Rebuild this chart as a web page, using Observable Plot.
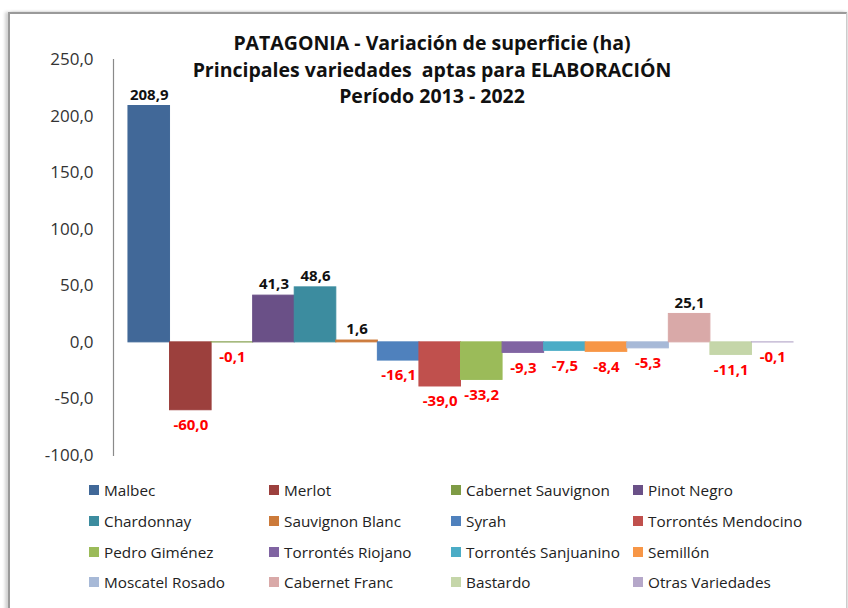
<!DOCTYPE html>
<html>
<head>
<meta charset="utf-8">
<script src="https://cdn.jsdelivr.net/npm/d3@7"></script>
<script src="https://cdn.jsdelivr.net/npm/@observablehq/plot@0.6"></script>
<style>
  html, body { margin: 0; padding: 0; background: #fff; }
  #wrap { position: relative; width: 848px; height: 608px; overflow: hidden; font-family: "Open Sans", sans-serif; }
  #box { position: absolute; left: 8px; top: 12px; width: 836px; height: 620px; border-top: 2px solid #9a9a9a; border-left: 2px solid #9a9a9a; border-right: 1px solid #ccc; box-shadow: -3px 0 3px rgba(0,0,0,0.18), 3px 0 3px rgba(0,0,0,0.12); }
  #chart { position: absolute; left: 0; top: 0; }
  #title { position: absolute; left: 82px; top: 30px; width: 700px; text-align: center; font-weight: bold; font-size: 19.5px; line-height: 26.5px; color: #111; }
  #legend { position: absolute; left: 0; top: 0; }
  .item { position: absolute; display: flex; align-items: center; font-size: 15.3px; color: #222; white-space: nowrap; }
  .sw { width: 10px; height: 10px; margin-right: 5px; }
</style>
</head>
<body>
<div id="wrap">
  <div id="box"></div>
  <div id="chart"></div>
  <div id="title">PATAGONIA - Variación de superficie (ha)<br>Principales variedades&nbsp; aptas para ELABORACIÓN<br>Período 2013 - 2022</div>
  <div id="legend"></div>
</div>
<script>
const varieties = ["Malbec", "Merlot", "Cabernet Sauvignon", "Pinot Negro", "Chardonnay", "Sauvignon Blanc", "Syrah", "Torrontés Mendocino", "Pedro Giménez", "Torrontés Riojano", "Torrontés Sanjuanino", "Semillón", "Moscatel Rosado", "Cabernet Franc", "Bastardo", "Otras Variedades"];
const values = [208.9, -60.0, -0.1, 41.3, 48.6, 1.6, -16.1, -39.0, -33.2, -9.3, -7.5, -8.4, -5.3, 25.1, -11.1, -0.1];
const colors = ["#416898", "#9C403D", "#7E9B45", "#6A5087", "#3C8C9F", "#CC7A3A", "#4F81BD", "#C0504D", "#9BBB59", "#8064A2", "#4BACC6", "#F79646", "#A7B9D7", "#D9A9A8", "#C5D6A9", "#B5A7C9"];
const yTicks = [-100, -50, 0, 50, 100, 150, 200, 250];

const data = varieties.map((name, i) => ({name, value: values[i]}));
const fmt = d => d.toFixed(1).replace(".", ",");

const plot = Plot.plot({
  width: 848,
  height: 470,
  marginTop: 59,
  marginBottom: 15,
  marginLeft: 113,
  marginRight: 40,
  style: {background: "transparent", fontFamily: "Open Sans, sans-serif"},
  x: {domain: varieties, paddingInner: 0, paddingOuter: 0.36, round: false, axis: null},
  y: {domain: [-100, 250], ticks: yTicks, tickFormat: fmt},
  color: {domain: varieties, range: colors},
  marks: [
    Plot.barY(data, {x: "name", y: "value", fill: "name", stroke: "name", strokeWidth: 1}),
    Plot.axisY({ticks: yTicks, tickFormat: fmt, tickSize: 0, tickPadding: 20, fontSize: 17, fill: "#333", label: null}),
    Plot.frame({anchor: "left", stroke: "#8a8a8a", strokeWidth: 1.2}),
    Plot.text(data.filter(d => d.value >= 0), {x: "name", y: "value", text: d => fmt(d.value), dy: -11, fill: "#111", fontWeight: "bold", fontSize: 15}),
    Plot.text(data.filter(d => d.value < 0), {x: "name", y: "value", text: d => fmt(d.value), dy: 15, fill: "#FF0000", fontWeight: "bold", fontSize: 15})
  ]
});
document.getElementById("chart").appendChild(plot);

const colX = [89, 269, 451, 633];
const rowY = [490, 521, 552, 582];
const legend = document.getElementById("legend");
varieties.forEach((name, i) => {
  const el = document.createElement("div");
  el.className = "item";
  el.style.left = colX[i % 4] + "px";
  el.style.top = (rowY[Math.floor(i / 4)] - 11) + "px";
  el.style.height = "22px";
  el.innerHTML = `<span class="sw" style="background:${colors[i]}"></span><span>${name}</span>`;
  legend.appendChild(el);
});
</script>
</body>
</html>
